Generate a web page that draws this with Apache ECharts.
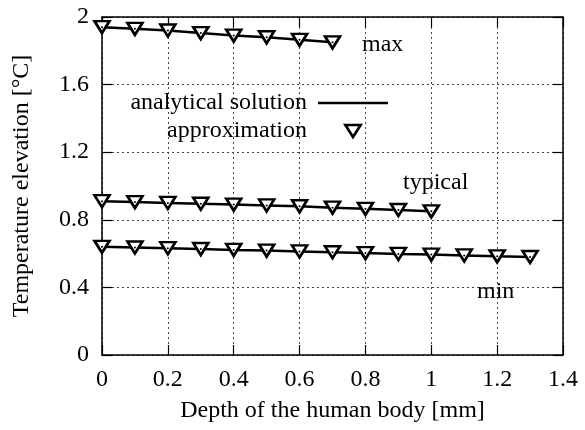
<!DOCTYPE html>
<html>
<head>
<meta charset="utf-8">
<script src="https://cdn.jsdelivr.net/npm/echarts@6/dist/echarts.min.js"></script>
<style>
  html, body { margin: 0; padding: 0; background: #fff; }
  #chart { width: 585px; height: 430px; }
</style>
</head>
<body>
<div id="chart"></div>
<script>
// depth [mm] and temperature elevation [°C]
var depthMax = [0, 0.1, 0.2, 0.3, 0.4, 0.5, 0.6, 0.7];
var tempMax = [1.94, 1.93, 1.92, 1.905, 1.89, 1.88, 1.865, 1.85];

var depthTypical = [0, 0.1, 0.2, 0.3, 0.4, 0.5, 0.6, 0.7, 0.8, 0.9, 1.0];
var tempTypical = [0.91, 0.905, 0.9, 0.895, 0.89, 0.885, 0.88, 0.872, 0.865, 0.858, 0.85];

var depthMin = [0, 0.1, 0.2, 0.3, 0.4, 0.5, 0.6, 0.7, 0.8, 0.9, 1.0, 1.1, 1.2, 1.3];
var tempMin = [0.64, 0.636, 0.632, 0.627, 0.622, 0.618, 0.613, 0.608, 0.603, 0.598, 0.594, 0.589, 0.584, 0.58];

var FONT = "Liberation Serif";
var FS = 24;
// hollow down-pointing triangle (gnuplot style)
var TRI = "path://M0,0 L14,0 L7,11 Z";

function pairs(xs, ys) {
  return xs.map(function (x, i) { return [x, ys[i]]; });
}

var curves = [
  pairs(depthMax, tempMax),
  pairs(depthTypical, tempTypical),
  pairs(depthMin, tempMin)
];

var series = [];
// analytical solution lines
curves.forEach(function (d) {
  series.push({
    name: "analytical solution",
    type: "line",
    data: d,
    symbol: "none",
    showSymbol: false,
    lineStyle: { color: "#000", width: 2.5 },
    itemStyle: { color: "#000" },
    z: 3
  });
});
// approximation markers
curves.forEach(function (d) {
  series.push({
    name: "approximation",
    type: "scatter",
    data: d,
    symbol: TRI,
    symbolSize: [15, 12],
    itemStyle: { color: "#fff", borderColor: "#000", borderWidth: 2.6, opacity: 1 },
    z: 4
  });
});
// little centre dots of the markers
curves.forEach(function (d) {
  series.push({
    name: "approximation",
    type: "scatter",
    data: d,
    symbol: "circle",
    symbolSize: 2,
    itemStyle: { color: "#000", opacity: 1 },
    z: 5
  });
});

var myChart = echarts.init(document.getElementById("chart"));

var tickStyle = { show: true, inside: true, length: 10, lineStyle: { color: "#000", width: 1.2 } };
var lineStyleAxis = { show: true, onZero: false, lineStyle: { color: "#000", width: 1.5 } };
var gridStyle = { show: true, lineStyle: { color: "#444", width: 1, type: [2, 3] } };

var option = {
  backgroundColor: "#fff",
  animation: false,
  grid: { left: 102, right: 22, top: 17, bottom: 75 },
  legend: {
    orient: "vertical",
    right: 192,
    top: 86,
    align: "right",
    itemWidth: 70,
    itemHeight: 12,
    itemGap: 4,
    textStyle: { fontFamily: FONT, fontSize: FS, color: "#000", padding: [0, 6, 0, 0] },
    data: [
      { name: "analytical solution", icon: "path://M0,0 L70,0 L70,2.5 L0,2.5 Z",
        itemStyle: { color: "#000" } },
      { name: "approximation", icon: TRI,
        itemStyle: { color: "#fff", borderColor: "#000", borderWidth: 2.6, opacity: 1 } }
    ]
  },
  xAxis: [
    {
      type: "value",
      min: 0, max: 1.4, interval: 0.2,
      name: "Depth of the human body [mm]",
      nameLocation: "middle",
      nameGap: 44,
      nameTextStyle: { fontFamily: FONT, fontSize: FS, color: "#000" },
      axisLine: lineStyleAxis,
      axisTick: tickStyle,
      axisLabel: { fontFamily: FONT, fontSize: FS, color: "#000", margin: 13 },
      splitLine: gridStyle
    },
    {
      type: "value", position: "top",
      min: 0, max: 1.4, interval: 0.2,
      axisLine: lineStyleAxis,
      axisTick: tickStyle,
      axisLabel: { show: false },
      splitLine: { show: false }
    }
  ],
  yAxis: [
    {
      type: "value",
      min: 0, max: 2, interval: 0.4,
      name: "Temperature elevation [°C]",
      nameLocation: "middle",
      nameGap: 68,
      nameTextStyle: { fontFamily: FONT, fontSize: FS, color: "#000" },
      axisLine: lineStyleAxis,
      axisTick: tickStyle,
      axisLabel: { fontFamily: FONT, fontSize: FS, color: "#000", margin: 13 },
      splitLine: gridStyle
    },
    {
      type: "value", position: "right",
      min: 0, max: 2, interval: 0.4,
      axisLine: lineStyleAxis,
      axisTick: tickStyle,
      axisLabel: { show: false },
      splitLine: { show: false }
    }
  ],
  graphic: [
    { type: "text", left: 362, top: 33, style: { text: "max", font: FS + "px " + FONT, fill: "#000" } },
    { type: "text", left: 403, top: 171, style: { text: "typical", font: FS + "px " + FONT, fill: "#000" } },
    { type: "text", left: 477, top: 280, style: { text: "min", font: FS + "px " + FONT, fill: "#000" } }
  ],
  series: series
};
myChart.setOption(option);
</script>
</body>
</html>
